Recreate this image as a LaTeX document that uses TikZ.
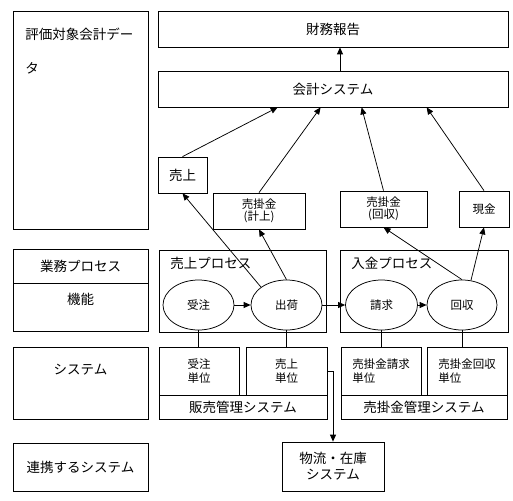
\documentclass[tikz,border=0pt]{standalone}
\usepackage{fontspec}
\setmainfont{Noto Sans CJK JP}
\usetikzlibrary{shapes.geometric,arrows.meta,calc}
\begin{document}
\begin{tikzpicture}[x=1pt,y=-1pt, line width=0.75pt,
  box/.style={draw, rectangle, inner sep=0pt},
  big/.style={font=\fontsize{13.5}{16}\selectfont},
  small/.style={font=\fontsize{11.5}{14}\selectfont},
  tight/.style={font=\fontsize{11.5}{12}\selectfont},
  ell/.style={draw, ellipse, inner sep=0pt, minimum height=50pt},
  arr/.style={-{Triangle[length=7pt,width=6pt]}},
]
\useasboundingbox (0,0) rectangle (513,500);

% left column
\node[box, minimum width=135pt, minimum height=218pt] (eval) at (80.5,120) {};
\node[big, anchor=west] (evalt1) at ($(eval.north west)+(9,24)$) {評価対象会計デー};
\node[big, anchor=west] (evalt2) at ($(eval.north west)+(9,58)$) {タ};
\node[box, big, minimum width=135pt, minimum height=34pt] (gyomu) at (80.5,266) {業務プロセス};
\node[box, minimum width=135pt, minimum height=48pt] (kinou) at (80.5,307) {};
\node[big] (kinout) at ($(kinou.north)+(0,17)$) {機能};
\node[box, minimum width=135pt, minimum height=72pt] (system) at (80.5,383) {};
\node[big] (systemt) at ($(system.north)+(0,23)$) {システム};
\node[box, big, minimum width=135pt, minimum height=48pt] (renkei) at (80.5,467) {連携するシステム};

% top
\node[box, big, minimum width=350pt, minimum height=36pt] (zaimu) at (333,29) {財務報告};
\node[box, big, minimum width=350pt, minimum height=36pt] (kaikei) at (333,89) {会計システム};

% account data
\node[box, big, minimum width=49pt, minimum height=36pt] (uriage) at (182.5,175) {売上};
\node[box, tight, align=center, minimum width=92pt, minimum height=36pt] (urikake1) at (259,211) {売掛金\\(計上)};
\node[box, tight, align=center, minimum width=87pt, minimum height=36pt] (urikake2) at (383.5,209) {売掛金\\(回収)};
\node[box, small, minimum width=50pt, minimum height=36pt] (genkin) at (484,209) {現金};

% processes
\node[box, minimum width=167pt, minimum height=82pt] (uproc) at (242.5,291) {};
\node[big, anchor=west] (uproct) at ($(uproc.north west)+(8,14)$) {売上プロセス};
\node[box, minimum width=168pt, minimum height=82pt] (nproc) at (424,291) {};
\node[big, anchor=west] (nproct) at ($(nproc.north west)+(8,14)$) {入金プロセス};

\node[ell, small, minimum width=71pt] (juchu) at (198.5,305) {受注};
\node[ell, small, minimum width=71pt] (shukka) at (286.5,305) {出荷};
\node[ell, small, minimum width=72pt] (seikyu) at (381.5,305) {請求};
\node[ell, small, minimum width=70pt] (kaishu) at (462,305) {回収};

% systems
\node[box, small, align=center, minimum width=80pt, minimum height=48pt] (jutan) at (199,371) {受注\\単位};
\node[box, small, align=center, minimum width=81pt, minimum height=48pt] (urtan) at (286.5,371) {売上\\単位};
\node[box, big, minimum width=168pt, minimum height=24pt] (hanbai) at (243,407) {販売管理システム};
\node[box, small, align=left, minimum width=80pt, minimum height=48pt] (seitan) at (381,371) {売掛金請求\\単位};
\node[box, small, align=left, minimum width=80pt, minimum height=48pt] (kaitan) at (467,371) {売掛金回収\\単位};
\node[box, big, minimum width=166pt, minimum height=24pt] (ukansys) at (424,407) {売掛金管理システム};

\node[box, big, align=center, minimum width=102pt, minimum height=49pt] (butsu) at (333,466.5) {物流・在庫\\システム};

% connectors
\draw[arr] ([xshift=7pt]kaikei.north) -- ([xshift=7pt]zaimu.south);
\draw[arr] (uriage.north) -- ([xshift=120pt]kaikei.south west);
\draw[arr] (urikake1.north) -- ([xshift=163pt]kaikei.south west);
\draw[arr] (urikake2.north) -- ([xshift=204pt]kaikei.south west);
\draw[arr] (genkin.north) -- ([xshift=269pt]kaikei.south west);

\draw[arr] (shukka.145) -- (uriage.south);
\draw[arr] (shukka.north) -- (urikake1.south);
\draw[arr] (kaishu.north) -- (urikake2.south);
\draw[arr] (kaishu.70) -- (genkin.south);

\draw[arr] (juchu) -- (shukka);
\draw[arr] (shukka) -- (seikyu);
\draw[arr] (seikyu) -- (kaishu);

\draw (juchu.south) -- (juchu.south |- jutan.north);
\draw (shukka.south) -- (shukka.south |- urtan.north);
\draw (seikyu.south) -- (seikyu.south |- seitan.north);
\draw (kaishu.south) -- (kaishu.south |- kaitan.north);

\draw[arr] (urtan.east) -| (butsu.north);
\end{tikzpicture}
\end{document}
